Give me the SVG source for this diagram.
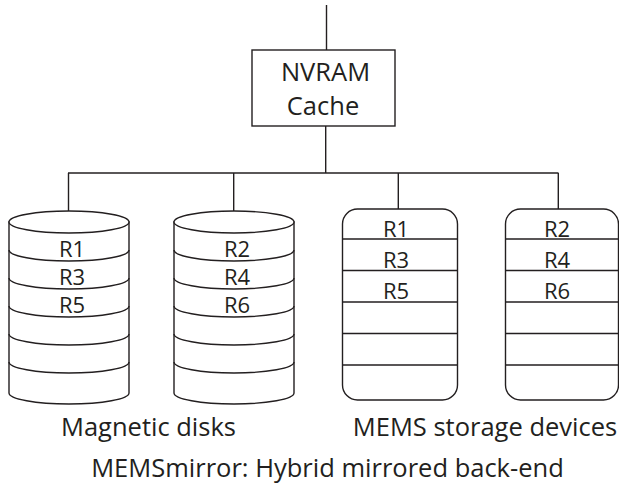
<svg xmlns="http://www.w3.org/2000/svg" width="619" height="485" viewBox="0 0 619 485">
<style>
.s{fill:none;stroke:#231f20;stroke-width:1.4}
.f{fill:#fff;stroke:#231f20;stroke-width:1.4}
text{font-family:"Open Sans","Liberation Sans",sans-serif;fill:#231f20}
.r{font-size:22px}
.n{font-size:25.5px;text-anchor:middle}
.l{font-size:25.5px;text-anchor:middle}
</style>
<rect width="619" height="485" fill="#fff"/>
<g id="connectors" class="s">
<line x1="326.5" y1="5" x2="326.5" y2="50"/>
<line x1="325.7" y1="126" x2="325.7" y2="173"/>
<line x1="68" y1="173" x2="558.5" y2="173"/>
<line x1="68.5" y1="173" x2="68.5" y2="211"/>
<line x1="233.7" y1="173" x2="233.7" y2="211"/>
<line x1="398.3" y1="173" x2="398.3" y2="209"/>
<line x1="558.3" y1="173" x2="558.3" y2="209"/>
</g>
<g id="nvram">
<rect class="f" x="252" y="50" width="143" height="76"/>
<text class="n" x="325.5" y="81">NVRAM</text>
<text class="n" x="323" y="115">Cache</text>
</g>
<g id="disk1">
<path class="f" d="M9,222 V393 A60,11 0 0 0 129,393 V222 Z"/>
<ellipse class="f" cx="69" cy="222" rx="60" ry="11"/>
<path class="s" d="M9,250 A60,11 0 0 0 129,250 M9,278 A60,11 0 0 0 129,278 M9,306 A60,11 0 0 0 129,306 M9,334 A60,11 0 0 0 129,334 M9,362 A60,11 0 0 0 129,362"/>
<text class="r" x="59" y="257">R1</text>
<text class="r" x="59" y="285">R3</text>
<text class="r" x="59" y="313">R5</text>
</g>
<g id="disk2">
<path class="f" d="M174,222 V393 A60,11 0 0 0 294,393 V222 Z"/>
<ellipse class="f" cx="234" cy="222" rx="60" ry="11"/>
<path class="s" d="M174,250 A60,11 0 0 0 294,250 M174,278 A60,11 0 0 0 294,278 M174,306 A60,11 0 0 0 294,306 M174,334 A60,11 0 0 0 294,334 M174,362 A60,11 0 0 0 294,362"/>
<text class="r" x="224" y="257">R2</text>
<text class="r" x="224" y="285">R4</text>
<text class="r" x="224" y="313">R6</text>
</g>
<g id="mems1">
<rect class="f" x="342.5" y="209" width="115" height="191" rx="15"/>
<path class="s" d="M342.5,239 H457.5 M342.5,270.5 H457.5 M342.5,302 H457.5 M342.5,333.5 H457.5 M342.5,365 H457"/>
<text class="r" x="383" y="237">R1</text>
<text class="r" x="383" y="268">R3</text>
<text class="r" x="383" y="299">R5</text>
</g>
<g id="mems2">
<rect class="f" x="505.5" y="209" width="113" height="191" rx="15"/>
<path class="s" d="M505.5,239 H618.5 M505.5,270.5 H618.5 M505.5,302 H618.5 M505.5,333.5 H618.5 M505.5,365 H618.5"/>
<text class="r" x="544" y="237">R2</text>
<text class="r" x="544" y="268">R4</text>
<text class="r" x="544" y="299">R6</text>
</g>
<g id="labels">
<text class="l" x="148.5" y="436">Magnetic disks</text>
<text class="l" x="485" y="436">MEMS storage devices</text>
<text class="l" x="327.5" y="477">MEMSmirror: Hybrid mirrored back-end</text>
</g>
</svg>
